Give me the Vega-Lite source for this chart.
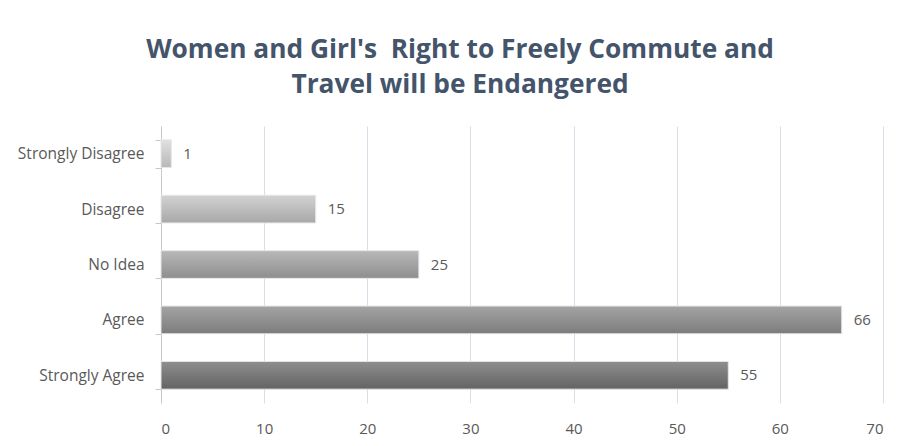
{
  "$schema": "https://vega.github.io/schema/vega-lite/v6.json",
  "width": 722,
  "height": 277,
  "autosize": {"type": "none"},
  "padding": {"left": 161, "top": 126, "right": 24, "bottom": 43},
  "background": "white",
  "config": {"view": {"stroke": null}, "font": "Open Sans"},
  "title": {
    "text": ["Women and Girl's\u00a0 Right to Freely Commute and", "Travel will be Endangered"],
    "font": "Open Sans",
    "fontSize": 26.3,
    "fontWeight": "bold",
    "color": "#44546a",
    "anchor": "middle",
    "dx": -62,
    "offset": 21,
    "lineHeight": 35
  },
  "data": {
    "values": [
      {"response": "Strongly Disagree", "count": 1},
      {"response": "Disagree", "count": 15},
      {"response": "No Idea", "count": 25},
      {"response": "Agree", "count": 66},
      {"response": "Strongly Agree", "count": 55}
    ]
  },
  "encoding": {
    "y": {
      "field": "response",
      "type": "nominal",
      "sort": ["Strongly Disagree", "Disagree", "No Idea", "Agree", "Strongly Agree"],
      "scale": {"domain": ["Strongly Disagree", "Disagree", "No Idea", "Agree", "Strongly Agree"], "paddingInner": 0.5, "paddingOuter": 0.25},
      "axis": {
        "title": null,
        "domain": true,
        "domainColor": "#c8c8c8",
        "ticks": true,
        "tickBand": "extent",
        "tickColor": "#c8c8c8",
        "tickSize": 6,
        "labelPadding": 11,
        "labelFont": "Open Sans",
        "labelFontSize": 15.5,
        "labelColor": "#595959",
        "grid": false
      }
    },
    "x": {
      "field": "count",
      "type": "quantitative",
      "scale": {"domain": [0, 70], "nice": false},
      "axis": {
        "title": null,
        "domain": false,
        "ticks": false,
        "grid": true,
        "gridColor": "#d9dee6",
        "values": [0, 10, 20, 30, 40, 50, 60, 70],
        "labelPadding": 18,
        "labelFont": "Open Sans",
        "labelFontSize": 15,
        "labelColor": "#595959"
      }
    }
  },
  "layer": [
    {
      "transform": [{"filter": "datum.response === 'Strongly Disagree'"}],
      "mark": {"type": "bar", "stroke": "#e6e6e6", "strokeWidth": 1,
        "color": {"gradient": "linear", "x1": 0, "y1": 0, "x2": 0, "y2": 1, "stops": [{"offset": 0, "color": "#e0e0e0"}, {"offset": 1, "color": "#b8b8b8"}]}}
    },
    {
      "transform": [{"filter": "datum.response === 'Disagree'"}],
      "mark": {"type": "bar", "stroke": "#e6e6e6", "strokeWidth": 1,
        "color": {"gradient": "linear", "x1": 0, "y1": 0, "x2": 0, "y2": 1, "stops": [{"offset": 0, "color": "#d2d2d2"}, {"offset": 1, "color": "#a8a8a8"}]}}
    },
    {
      "transform": [{"filter": "datum.response === 'No Idea'"}],
      "mark": {"type": "bar", "stroke": "#e6e6e6", "strokeWidth": 1,
        "color": {"gradient": "linear", "x1": 0, "y1": 0, "x2": 0, "y2": 1, "stops": [{"offset": 0, "color": "#b8b8b8"}, {"offset": 1, "color": "#8e8e8e"}]}}
    },
    {
      "transform": [{"filter": "datum.response === 'Agree'"}],
      "mark": {"type": "bar", "stroke": "#e6e6e6", "strokeWidth": 1,
        "color": {"gradient": "linear", "x1": 0, "y1": 0, "x2": 0, "y2": 1, "stops": [{"offset": 0, "color": "#a4a4a4"}, {"offset": 1, "color": "#7c7c7c"}]}}
    },
    {
      "transform": [{"filter": "datum.response === 'Strongly Agree'"}],
      "mark": {"type": "bar", "stroke": "#e6e6e6", "strokeWidth": 1,
        "color": {"gradient": "linear", "x1": 0, "y1": 0, "x2": 0, "y2": 1, "stops": [{"offset": 0, "color": "#8e8e8e"}, {"offset": 1, "color": "#636363"}]}}
    },
    {
      "mark": {"type": "text", "align": "left", "dx": 12, "fontSize": 15, "font": "Open Sans", "color": "#595959"},
      "encoding": {"text": {"field": "count", "type": "quantitative"}}
    }
  ]
}
